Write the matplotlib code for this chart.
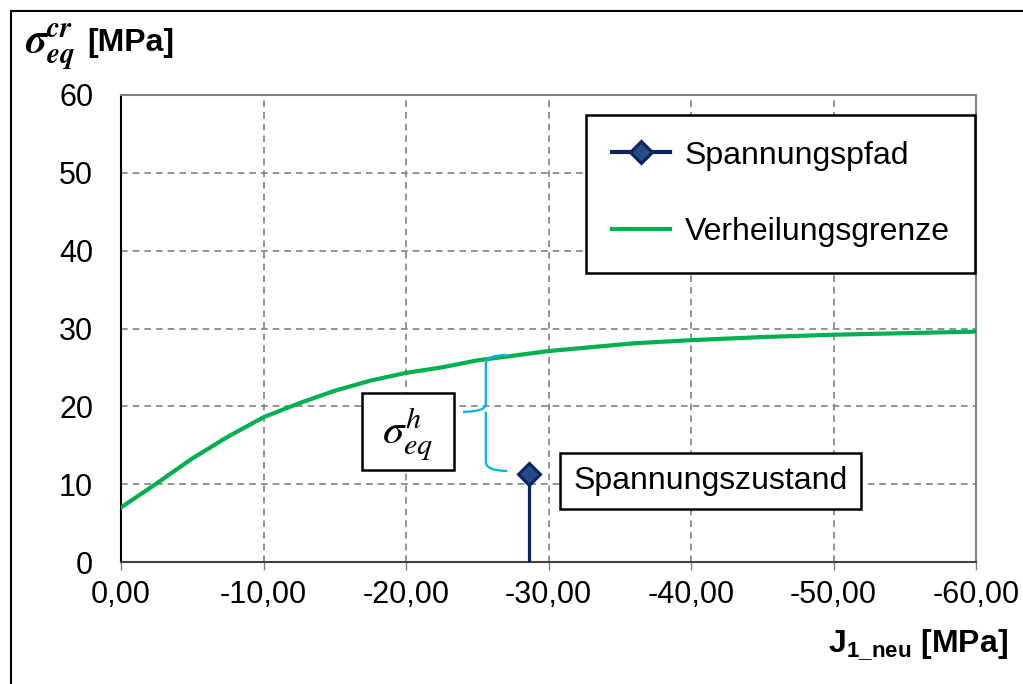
import matplotlib
matplotlib.use("Agg")
import matplotlib.pyplot as plt
from matplotlib.patches import Rectangle, PathPatch
from matplotlib.path import Path
from matplotlib.ticker import FuncFormatter

plt.rcParams['font.family'] = ['Liberation Sans', 'DejaVu Sans']
plt.rcParams['mathtext.fontset'] = 'custom'
plt.rcParams['mathtext.rm'] = 'Liberation Sans'
plt.rcParams['mathtext.bf'] = 'Liberation Sans:bold'
plt.rcParams['mathtext.it'] = 'Liberation Sans:italic'

# Data
grenze_x = [0, -2.5, -5, -7.5, -10, -12.5, -15, -17.5, -20, -22.5, -25, -30, -36, -40, -45, -50, -60]
grenze_y = [7.0, 10.1, 13.3, 16.1, 18.6, 20.4, 22.0, 23.3, 24.3, 25.0, 25.9, 27.1, 28.1, 28.5, 28.9, 29.2, 29.6]
pfad_x = [-28.6, -28.6]
pfad_y = [0, 11.3]
x_ticks = [0, -10, -20, -30, -40, -50, -60]
y_ticks = [0, 10, 20, 30, 40, 50, 60]

W, H = 1023, 684
fig = plt.figure(figsize=(W / 100, H / 100), dpi=100)
ax = fig.add_axes([121 / W, 1 - 562 / H, (976 - 121) / W, (562 - 95) / H])

navy = '#0B2461'
green = '#00B050'
cyan = '#00B0F0'
FS = 22
FS2 = 23

ax.plot(grenze_x, grenze_y, color=green, lw=3.0, label='Verheilungsgrenze', zorder=3)
ax.plot(pfad_x, pfad_y, color=navy, lw=2.3, zorder=4)
ax.plot(pfad_x[-1:], pfad_y[-1:], ls='none', marker='D', ms=11, mfc='#254C85',
        mec=navy, mew=2.2, zorder=5)
# legend proxy
ax.plot([], [], color=navy, lw=3, marker='D', ms=11, mfc='#254C85', mec=navy,
        mew=2.2, label='Spannungspfad')

ax.set_xlim(0, -60)
ax.set_ylim(0, 60)
ax.set_xticks(x_ticks)
ax.set_yticks(y_ticks)
ax.xaxis.set_major_formatter(FuncFormatter(lambda v, p: f"{v:.2f}".replace('.', ',').replace('-0,00', '0,00')))
ax.tick_params(axis='both', labelsize=FS, direction='out', width=1, colors='#808080',
               labelcolor='black')
ax.tick_params(axis='x', length=6, pad=7)
ax.tick_params(axis='y', length=0, pad=20)
ax.grid(True, color='#808080', ls=(0, (4, 3)), lw=1.2)
ax.set_axisbelow(True)
for s in ['top', 'right']:
    ax.spines[s].set_color('#808080')
    ax.spines[s].set_linewidth(1.5)
ax.spines['left'].set_color('black')
ax.spines['left'].set_linewidth(1.5)
ax.spines['bottom'].set_color('#404040')
ax.spines['bottom'].set_linewidth(1.5)

handles, labels = ax.get_legend_handles_labels()
order = [labels.index('Spannungspfad'), labels.index('Verheilungsgrenze')]
leg = ax.legend([handles[i] for i in order], [labels[i] for i in order],
                loc='upper left', bbox_to_anchor=(0.544, 0.957), fontsize=FS2,
                frameon=True, fancybox=False, edgecolor='black', framealpha=1,
                handlelength=1.82, handletextpad=0.47, labelspacing=1.45,
                borderpad=0.8, borderaxespad=0)
leg.get_frame().set_linewidth(1.8)

# Brace annotation
bx, bt, bb, bm = -25.6, 26.6, 11.7, 19.3
verts = [(-27.1, bt), (bx, bt), (bx, bt - 1.2),
         (bx, bm + 1.0),
         (bx, bm), (-24.0, bm),
         (bx, bm), (bx, bm - 1.0),
         (bx, bb + 1.2),
         (bx, bb), (-27.1, bb)]
codes = [Path.MOVETO, Path.CURVE3, Path.CURVE3,
         Path.LINETO,
         Path.CURVE3, Path.CURVE3,
         Path.MOVETO, Path.LINETO,
         Path.LINETO,
         Path.CURVE3, Path.CURVE3]
ax.add_patch(PathPatch(Path(verts, codes), fill=False, edgecolor=cyan, lw=1.6, zorder=6))

# sigma_eq^h label box
ax.add_patch(Rectangle((-16.9, 11.8), -6.5, 9.9, fc='white', ec='black', lw=1.8, zorder=7))
ax.text(-20.1, 16.4, r'$\sigma_{eq}^{h}$', fontsize=31, math_fontfamily='stix',
        ha='center', va='center', zorder=8)
ax.text(-41.4, 10.4, 'Spannungszustand', fontsize=FS2, ha='center', va='center', zorder=7,
        bbox=dict(boxstyle='square,pad=0.42', fc='white', ec='black', lw=1.8))

# Axis titles
fig.text(25 / W, 1 - 47 / H, r'$\mathbfit{\sigma}_{\mathbfit{eq}}^{\mathbfit{cr}}$', fontsize=30,
         math_fontfamily='stix', ha='left', va='center')
fig.text(87 / W, 1 - 43 / H, '[MPa]', fontsize=FS2, fontweight='bold', ha='left', va='center')
fig.text(1008 / W, 1 - 645 / H, r'J$_{\mathbf{1\_neu}}$ [MPa]', fontsize=FS2, fontweight='bold',
         ha='right', va='center')

# Outer frame
fig.patches.append(Rectangle((11 / W, -0.05), 1.2, 1 - 11 / H + 0.05, transform=fig.transFigure,
                             fill=False, ec='black', lw=1.5, zorder=0))

fig.savefig('out.png', dpi=100)
